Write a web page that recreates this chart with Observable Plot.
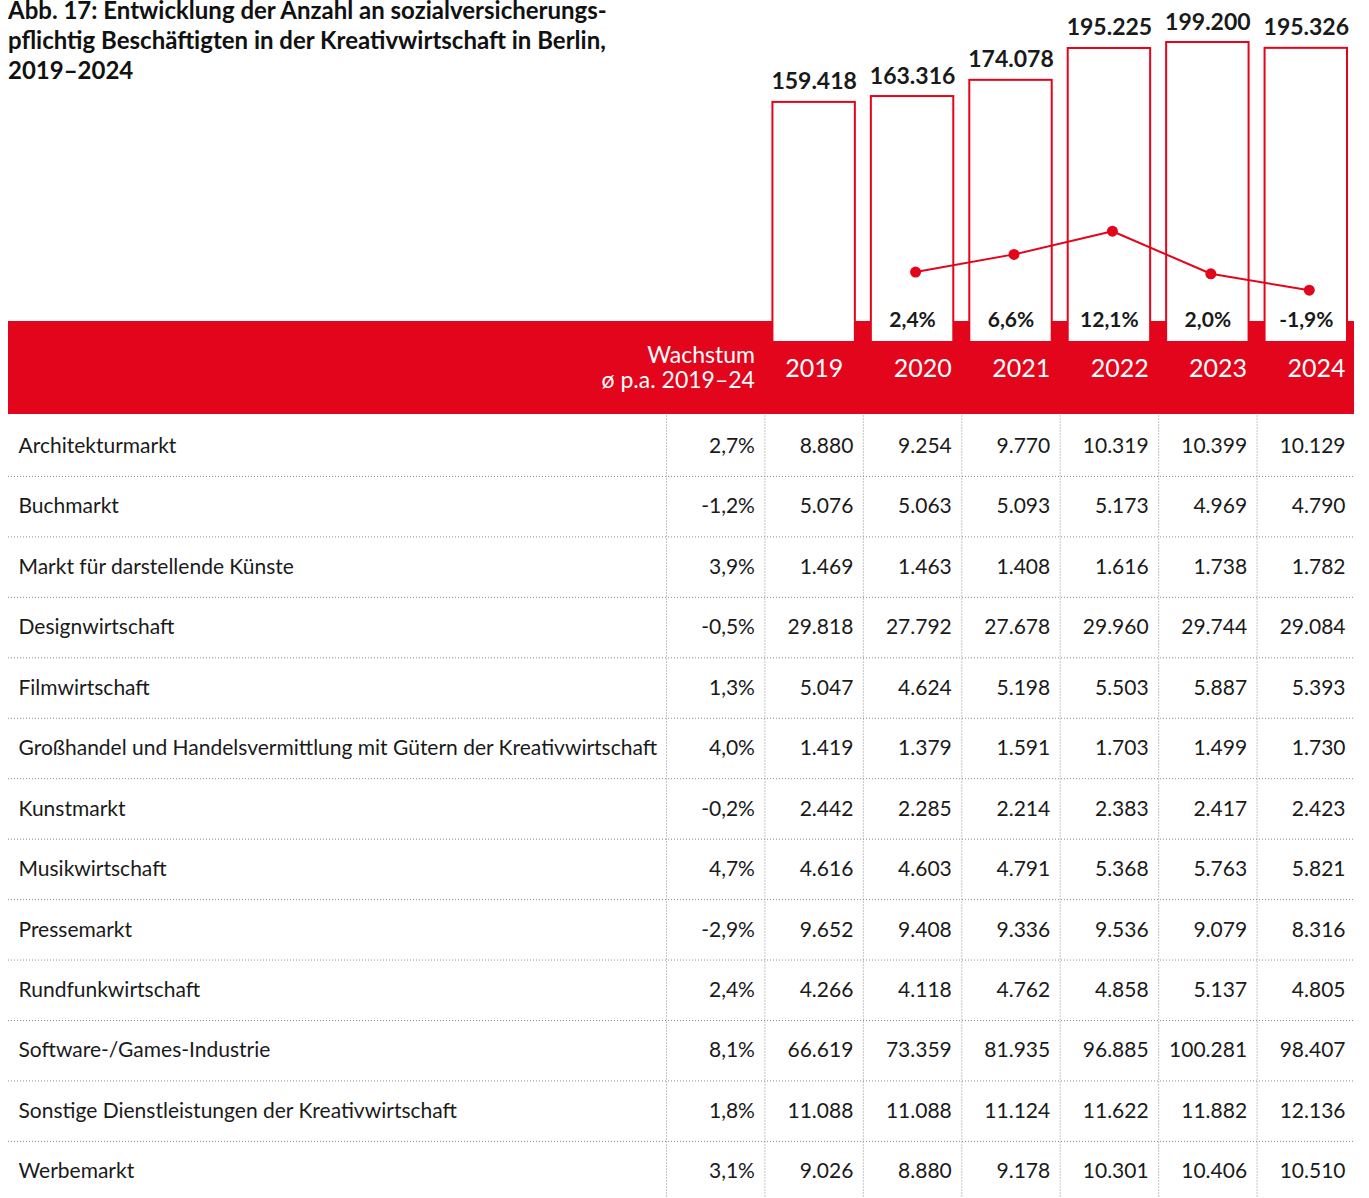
<!DOCTYPE html>
<html><head><meta charset="utf-8">
<script src="https://cdn.jsdelivr.net/npm/d3@7"></script>
<script src="https://cdn.jsdelivr.net/npm/@observablehq/plot@0.6"></script>
<style>
body{margin:0;background:#fff;font-family:Lato,sans-serif;}
#root{position:relative;width:1369px;height:1198px;overflow:hidden;background:#fff;}
#title{position:absolute;left:8px;top:-5px;font:700 24px/30px Lato,sans-serif;color:#111;white-space:pre;}
#band{position:absolute;left:8px;top:321px;width:1346px;height:93px;background:#e3051b;}
.layer{position:absolute;left:0;}
.layer svg{overflow:visible;background:transparent;}
</style></head><body>
<div id="root">
<div id="band"></div>
<div id="title">Abb. 17: Entwicklung der Anzahl an sozialversicherungs-
pflichtig Beschäftigten in der Kreativwirtschaft in Berlin,
2019–2024</div>
</div>
<script>
// ---------- data ----------
const years = ["2019", "2020", "2021", "2022", "2023", "2024"];
const totals = [159418, 163316, 174078, 195225, 199200, 195326];
const growth = [null, 2.4, 6.6, 12.1, 2.0, -1.9];
const headerLabel = "Wachstum\nø p.a. 2019–24";
const categories = [
  "Architekturmarkt",
  "Buchmarkt",
  "Markt für darstellende Künste",
  "Designwirtschaft",
  "Filmwirtschaft",
  "Großhandel und Handelsvermittlung mit Gütern der Kreativwirtschaft",
  "Kunstmarkt",
  "Musikwirtschaft",
  "Pressemarkt",
  "Rundfunkwirtschaft",
  "Software-/Games-Industrie",
  "Sonstige Dienstleistungen der Kreativwirtschaft",
  "Werbemarkt"
];
const avgGrowth = [2.7, -1.2, 3.9, -0.5, 1.3, 4.0, -0.2, 4.7, -2.9, 2.4, 8.1, 1.8, 3.1];
const v2019 = [8880, 5076, 1469, 29818, 5047, 1419, 2442, 4616, 9652, 4266, 66619, 11088, 9026];
const v2020 = [9254, 5063, 1463, 27792, 4624, 1379, 2285, 4603, 9408, 4118, 73359, 11088, 8880];
const v2021 = [9770, 5093, 1408, 27678, 5198, 1591, 2214, 4791, 9336, 4762, 81935, 11124, 9178];
const v2022 = [10319, 5173, 1616, 29960, 5503, 1703, 2383, 5368, 9536, 4858, 96885, 11622, 10301];
const v2023 = [10399, 4969, 1738, 29744, 5887, 1499, 2417, 5763, 9079, 5137, 100281, 11882, 10406];
const v2024 = [10129, 4790, 1782, 29084, 5393, 1730, 2423, 5821, 8316, 4805, 98407, 12136, 10510];

// ---------- helpers ----------
const RED = "#e3051b";
const INK = "#1a1a1a";
const FONT = "Lato, sans-serif";
const de = d3.formatLocale({decimal: ",", thousands: ".", grouping: [3], currency: ["", " €"]});
const fmtInt = de.format(",d");
const fmtPct = v => v.toFixed(1).replace(".", ",") + "%";
const series = [v2019, v2020, v2021, v2022, v2023, v2024];

const xScale = {type: "linear", domain: [0, 7], range: [666, 1355]};
const rootEl = document.getElementById("root");
function addLayer(svg, topPx) {
  const d = document.createElement("div");
  d.className = "layer";
  d.style.top = topPx + "px";
  d.appendChild(svg);
  rootEl.appendChild(d);
}

const yearData = years.map((y, i) => ({year: y, col: i + 1, total: totals[i], growth: growth[i]}));
const growthData = yearData.filter(d => d.growth != null);

// ---------- top chart: bars + header band labels ----------
const zeroY = 342, pxPerUnit = 1 / 664;
const barChart = Plot.plot({
  width: 1369, height: 415,
  marginTop: 0, marginBottom: 0, marginLeft: 0, marginRight: 14,
  style: {fontFamily: FONT, background: "transparent", overflow: "visible"},
  x: {...xScale, axis: null},
  y: {domain: [0, 200000], range: [zeroY, zeroY - 200000 * pxPerUnit], axis: null},
  marks: [
    Plot.rectY(yearData, {x1: d => d.col, x2: d => d.col + 1, y: "total", fill: "white", stroke: RED, strokeWidth: 2, insetLeft: 8, insetRight: 8}),
    Plot.text(yearData, {x: d => d.col + 0.5, y: "total", text: d => fmtInt(d.total), lineAnchor: "bottom", dy: -13, fontSize: 23, fontWeight: 700, fill: INK}),
    Plot.text(growthData, {x: d => d.col + 0.5, frameAnchor: "bottom", lineAnchor: "middle", dy: -95, text: d => fmtPct(d.growth), fontSize: 21, fontWeight: 700, fill: INK}),
    Plot.text(yearData.filter(d => d.col === 1), {x: d => d.col + 0.5, frameAnchor: "bottom", lineAnchor: "middle", dy: -47, text: "year", fontSize: 25, fill: "white"}),
    Plot.text(yearData.filter(d => d.col > 1), {x: d => d.col + 1, frameAnchor: "bottom", lineAnchor: "middle", dy: -47, text: "year", textAnchor: "end", dx: -10, fontSize: 25, fill: "white"}),
    Plot.text([{col: 0, label: headerLabel}], {x: d => d.col + 1, frameAnchor: "bottom", lineAnchor: "middle", dy: -48, text: "label", textAnchor: "end", dx: -10, fontSize: 23, lineHeight: 1.1, fill: "white"})
  ]
});
addLayer(barChart, 0);

// ---------- growth line overlay ----------
const g0 = 281.7, pxPerPct = 4.214;
const lineChart = Plot.plot({
  width: 1369, height: 415,
  marginTop: 0, marginBottom: 0, marginLeft: 0, marginRight: 14,
  style: {fontFamily: FONT, background: "transparent", overflow: "visible"},
  x: {...xScale, axis: null},
  y: {domain: [0, 12], range: [g0, g0 - 12 * pxPerPct], axis: null},
  marks: [
    Plot.line(growthData, {x: d => d.col + 0.5, y: "growth", dx: 3, stroke: RED, strokeWidth: 2}),
    Plot.dot(growthData, {x: d => d.col + 0.5, y: "growth", dx: 3, r: 5.5, fill: RED})
  ]
});
addLayer(lineChart, 0);

// ---------- table ----------
const rowH = 60.45, tableTop = 1.5;
const labelRows = categories.map((c, i) => ({row: i, label: c}));
const cells = [];
categories.forEach((c, i) => {
  cells.push({row: i, col: 0, text: fmtPct(avgGrowth[i])});
  series.forEach((s, j) => cells.push({row: i, col: j + 1, text: fmtInt(s[i])}));
});
const rowIdx = d3.range(1, categories.length);
const colIdx = d3.range(0, years.length + 1);
const tableChart = Plot.plot({
  width: 1369, height: 784,
  marginTop: 0, marginBottom: 0, marginLeft: 8, marginRight: 14,
  style: {fontFamily: FONT, background: "transparent", overflow: "visible"},
  x: {...xScale, axis: null},
  y: {domain: [0, categories.length], range: [tableTop, tableTop + categories.length * rowH], axis: null},
  marks: [
    Plot.ruleY(rowIdx, {stroke: "#8a8a8a", strokeWidth: 1, strokeDasharray: "1 2"}),
    Plot.ruleX(colIdx, {stroke: "#8a8a8a", strokeWidth: 1, strokeDasharray: "1 2", y1: 0, y2: categories.length + 0.1}),
    Plot.text(labelRows, {y: d => d.row + 0.5, frameAnchor: "left", dx: 10, text: "label", textAnchor: "start", fontSize: 21, fill: INK}),
    Plot.text(cells, {x: d => d.col + 1, y: d => d.row + 0.5, text: "text", textAnchor: "end", dx: -10, fontSize: 21, fill: INK})
  ]
});
addLayer(tableChart, 414);
</script>
</body></html>
